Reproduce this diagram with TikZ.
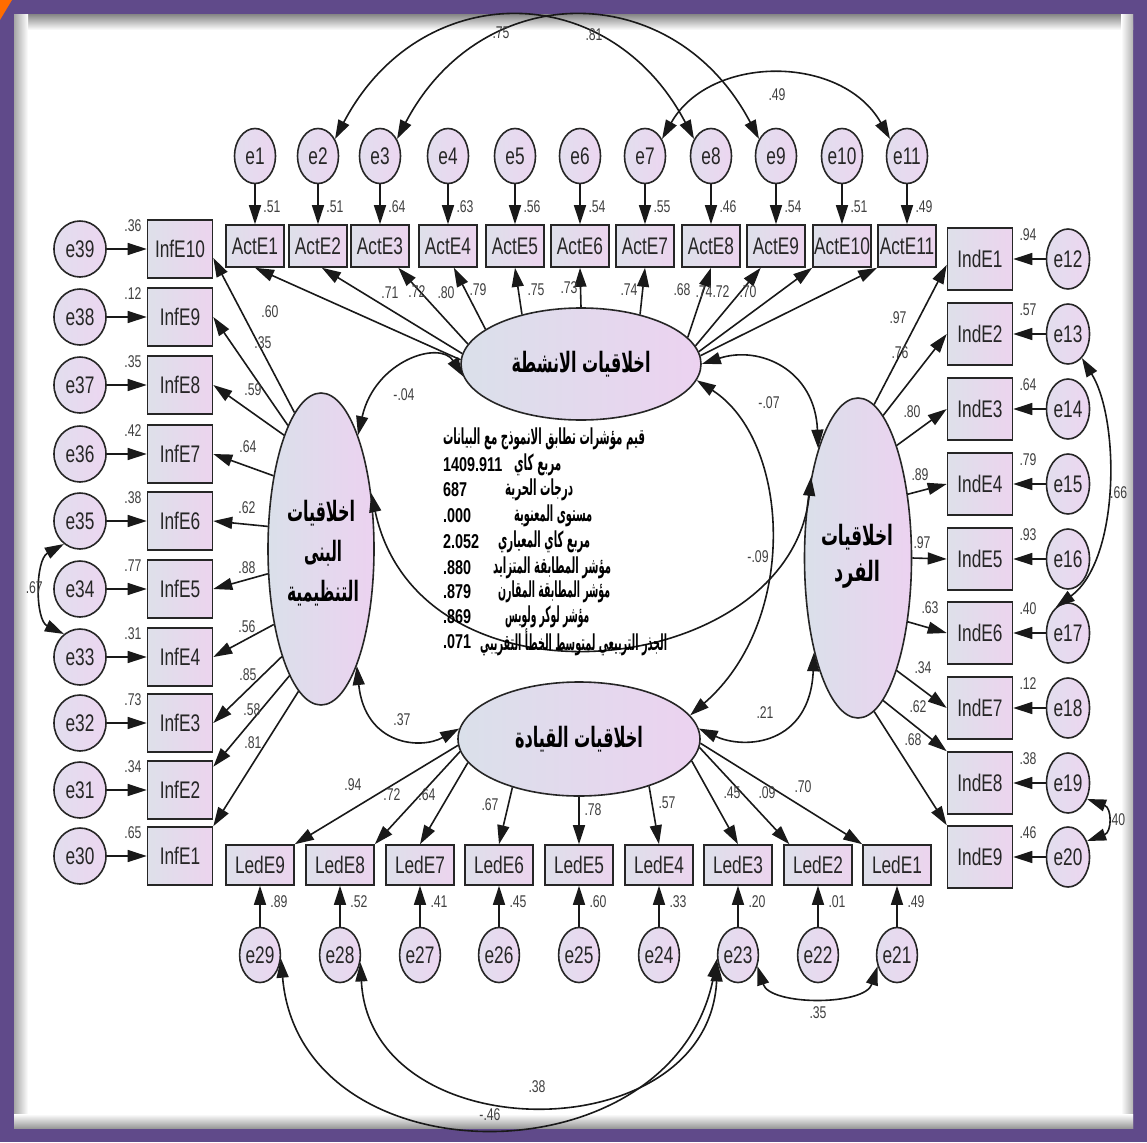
\documentclass[tikz,border=0pt]{standalone}
\usepackage{fontspec}
\usepackage{graphicx}
\usetikzlibrary{shapes.geometric,arrows.meta}
\setmainfont[FakeStretch=0.72]{Liberation Sans}
\newfontfamily\arabicfont[Script=Arabic]{DejaVu Sans}
\TeXXeTstate=1
\definecolor{frameP}{RGB}{96,74,138}
\definecolor{boxL}{RGB}{222,224,234}
\definecolor{boxR}{RGB}{236,212,238}
\definecolor{errL}{RGB}{226,222,238}
\definecolor{errR}{RGB}{236,214,240}
\definecolor{latL}{RGB}{218,224,234}
\definecolor{latR}{RGB}{236,210,240}
\newcommand{\artxt}[3]{{\arabicfont\fontsize{#1}{#1}\selectfont\bfseries\resizebox{#2pt}{\height}{#3}}}
\begin{document}
\begin{tikzpicture}[x=1pt,y=-1pt,>={Triangle[length=19pt,width=12pt]}]
\tikzset{
  obs/.style={rectangle, draw=black!85, line width=1.6pt, left color=boxL, right color=boxR, inner sep=0pt, font=\fontsize{24}{24}\selectfont, text=black!85},
  err/.style={ellipse, draw=black!85, line width=1.6pt, left color=errL, right color=errR, inner sep=0pt, font=\fontsize{24}{24}\selectfont, text=black!85},
  lat/.style={ellipse, draw=black!85, line width=1.6pt, left color=latL, right color=latR, inner sep=0pt},
  lab/.style={inner sep=0pt, font=\fontsize{17}{17}\selectfont, text=black!75},
  num/.style={inner sep=0pt, anchor=west, font=\bfseries\fontsize{20}{20}\selectfont},
  atx/.style={inner sep=0pt},
  arr/.style={->, line width=1.6pt, draw=black!90},
  cov/.style={<->, line width=1.6pt, draw=black!90},
}
% frame
\useasboundingbox (0,0) rectangle (1147,1142);
\fill[frameP] (0,0) rectangle (1147,1142);
\fill[white] (14,15) rectangle (1133,1128);
\shade[top color=black!45, bottom color=white] (14,15) rectangle (1133,30);
\shade[left color=black!35, right color=white] (14,15) rectangle (28,1128);
\shade[left color=white, right color=black!30] (1121,15) rectangle (1133,1128);
\shade[top color=white, bottom color=black!40] (14,1114) rectangle (1133,1128);
\fill[orange!85!red] (0,0) -- (12,0) -- (0,20) -- cycle;

% latent variables
\node[lat, minimum width=240pt, minimum height=112pt] (act) at (581,364) {\artxt{28}{139}{\beginR اخلاقيات الانشطة\endR}};
\node[lat, minimum width=242pt, minimum height=114pt] (led) at (579,739) {\artxt{28}{128}{\beginR اخلاقيات القيادة\endR}};
\node[lat, minimum width=106pt, minimum height=312pt] (inf) at (321,549) {};
\node[lat, minimum width=107pt, minimum height=320pt] (ind) at (858,558) {};
\node[atx] (inft1) at (321,513) {\artxt{28}{68}{\beginR اخلاقيات\endR}};
\node[atx] (inft2) at (323,553) {\artxt{28}{38}{\beginR البنى\endR}};
\node[atx] (inft3) at (323,593) {\artxt{28}{72}{\beginR التنظيمية\endR}};
\node[atx] (indt1) at (857,537) {\artxt{28}{72}{\beginR اخلاقيات\endR}};
\node[atx] (indt2) at (857,574) {\artxt{28}{46}{\beginR الفرد\endR}};

% top row
\foreach \i/\x/\v in {1/255/.51,2/318/.51,3/380/.64,4/448/.63,5/515/.56,6/580/.54,7/645/.55,8/711/.46,9/776/.54,10/842/.51,11/907/.49}{
  \node[err, minimum width=41pt, minimum height=55pt] (e\i) at (\x,156) {e\i};
  \node[obs, minimum width=58pt, minimum height=42pt] (ActE\i) at (\x,246) {ActE\i};
  \node[lab] (ra\i) at (\x+17,207) {\v};
  \draw[arr] (e\i) -- (ActE\i);
}
% left column
\foreach \k/\y/\ee/\v in {10/249/39/.36,9/317/38/.12,8/385/37/.35,7/454/36/.42,6/521/35/.38,5/589/34/.77,4/657/33/.31,3/723/32/.73,2/790/31/.34,1/856/30/.65}{
  \node[err, minimum width=52pt, minimum height=56pt] (e\ee) at (80,\y) {e\ee};
  \node[obs, minimum width=65pt, minimum height=58pt] (InfE\k) at (180,\y) {InfE\k};
  \node[lab] (ri\k) at (133,\y-23) {\v};
  \draw[arr] (e\ee) -- (InfE\k);
}
% right column
\foreach \k/\y/\ee/\v in {1/259/12/.94,2/334/13/.57,3/409/14/.64,4/484/15/.79,5/559/16/.93,6/633/17/.40,7/708/18/.12,8/783/19/.38,9/857/20/.46}{
  \node[obs, minimum width=65pt, minimum height=62pt] (IndE\k) at (980,\y) {IndE\k};
  \node[err, minimum width=43pt, minimum height=60pt] (e\ee) at (1068,\y) {e\ee};
  \node[lab] (rd\k) at (1028,\y-24) {\v};
  \draw[arr] (e\ee) -- (IndE\k);
}
% bottom row
\foreach \k/\x/\ee/\v in {9/260/29/.89,8/340/28/.52,7/420/27/.41,6/499/26/.45,5/579/25/.60,4/659/24/.33,3/738/23/.20,2/818/22/.01,1/897/21/.49}{
  \node[obs, minimum width=68pt, minimum height=40pt] (LedE\k) at (\x,865) {LedE\k};
  \node[err, minimum width=40pt, minimum height=55pt] (e\ee) at (\x,955) {e\ee};
  \node[lab] (rl\k) at (\x+19,902) {\v};
  \draw[arr] (e\ee) -- (LedE\k);
}

% loadings: activities
\draw[arr] (act.178) -- (ActE1.south);
\draw[arr] (act.175) -- (ActE2.-80);
\draw[arr] (act.170) -- (ActE3.-50);
\draw[arr] (act.160) -- (ActE4.-75);
\draw[arr] (act.140) -- (ActE5.south);
\draw[arr] (act.90) -- (ActE6.south);
\draw[arr] (act.40) -- (ActE7.south);
\draw[arr] (act.14) -- (ActE8.south);
\draw[arr] (act.9) -- (ActE9.-125);
\draw[arr] (act.6) -- (ActE10.south west);
\draw[arr] (act.4) -- (ActE11.south west);
\node[lab] (la1) at (390,293) {.71};
\node[lab] (la2) at (417,292) {.72};
\node[lab] (la3) at (446,293) {.80};
\node[lab] (la4) at (478,290) {.79};
\node[lab] (la5) at (536,290) {.75};
\node[lab] (la6) at (569,288) {.73};
\node[lab] (la7) at (629,290) {.74};
\node[lab] (la8) at (682,290) {.68};
\node[lab] (la9) at (704,292) {.74};
\node[lab] (la10) at (721,292) {.72};
\node[lab] (la11) at (748,292) {.70};

% loadings: structures
\draw[arr] (inf.101) -- (InfE10.-15);
\draw[arr] (inf.105) -- (InfE9.east);
\draw[arr] (inf.108) -- (InfE8.east);
\draw[arr] (inf.123) -- (InfE7.east);
\draw[arr] (inf.157) -- (InfE6.east);
\draw[arr] (inf.205) -- (InfE5.east);
\draw[arr] (inf.238) -- (InfE4.east);
\draw[arr] (inf.250) -- (InfE3.east);
\draw[arr] (inf.256) -- (InfE2.35);
\draw[arr] (inf.261) -- (InfE1.north east);
\node[lab] (li10) at (270,312) {.60};
\node[lab] (li9) at (263,343) {.35};
\node[lab] (li8) at (253,390) {.59};
\node[lab] (li7) at (248,447) {.64};
\node[lab] (li6) at (247,508) {.62};
\node[lab] (li5) at (247,568) {.88};
\node[lab] (li4) at (247,627) {.56};
\node[lab] (li3) at (248,675) {.85};
\node[lab] (li2) at (252,710) {.58};
\node[lab] (li1) at (253,743) {.81};

% loadings: individual
\draw[arr] (ind.84) -- (IndE1.190);
\draw[arr] (ind.80) -- (IndE2.west);
\draw[arr] (ind.71) -- (IndE3.west);
\draw[arr] (ind.52) -- (IndE4.west);
\draw[arr] (ind.0) -- (IndE5.west);
\draw[arr] (ind.-52) -- (IndE6.west);
\draw[arr] (ind.-71) -- (IndE7.west);
\draw[arr] (ind.-80) -- (IndE8.north west);
\draw[arr] (ind.-84) -- (IndE9.north west);
\node[lab] (ld1) at (898,318) {.97};
\node[lab] (ld2) at (900,353) {.76};
\node[lab] (ld3) at (912,412) {.80};
\node[lab] (ld4) at (920,475) {.89};
\node[lab] (ld5) at (922,543) {.97};
\node[lab] (ld6) at (930,608) {.63};
\node[lab] (ld7) at (923,668) {.34};
\node[lab] (ld8) at (918,707) {.62};
\node[lab] (ld9) at (913,740) {.68};

% loadings: leadership
\draw[arr] (led.183) -- (LedE9.north east);
\draw[arr] (led.186) -- (LedE8.north east);
\draw[arr] (led.192) -- (LedE7.north);
\draw[arr] (led.216) -- (LedE6.north);
\draw[arr] (led.270) -- (LedE5.north);
\draw[arr] (led.-34) -- (LedE4.north);
\draw[arr] (led.-11) -- (LedE3.north);
\draw[arr] (led.-4) -- (LedE2.144);
\draw[arr] (led.-2) -- (LedE1.north west);
\node[lab] (ll9) at (353,785) {.94};
\node[lab] (ll8) at (392,795) {.72};
\node[lab] (ll7) at (427,795) {.64};
\node[lab] (ll6) at (490,805) {.67};
\node[lab] (ll5) at (593,810) {.78};
\node[lab] (ll4) at (667,803) {.57};
\node[lab] (ll3) at (732,793) {.45};
\node[lab] (ll2) at (767,793) {.09};
\node[lab] (ll1) at (803,787) {.70};

% latent covariances
\draw[cov] (inf.72) .. controls (375,360) and (440,340) .. (act.186);
\draw[cov] (act.0) .. controls (760,345) and (815,370) .. (ind.110);
\draw[cov] (inf.-73) .. controls (365,745) and (420,750) .. (led.175);
\draw[cov] (ind.-115) .. controls (810,745) and (745,750) .. (led.5);
\draw[cov] (act.-8) .. controls (790,440) and (800,620) .. (led.12);
\draw[cov] (inf.48) .. controls (420,720) and (790,680) .. (ind.120);
\node[lab] (c1) at (404,395) {-.04};
\node[lab] (c2) at (769,403) {-.07};
\node[lab] (c3) at (402,720) {.37};
\node[lab] (c4) at (765,713) {.21};
\node[lab] (c5) at (758,557) {-.09};

% error covariances
\draw[cov] (e35.235) .. controls (35,560) and (35,620) .. (e33.125);
\draw[cov] (e13.-60) .. controls (1120,420) and (1120,560) .. (e17.115);
\draw[cov] (e19.-40) .. controls (1112,808) and (1112,832) .. (e20.40);
\draw[cov] (e29.-10) .. controls (300,1183) and (674,1183) .. (e23.190);
\draw[cov] (e28.-20) .. controls (370,1152) and (708,1152) .. (e23.200);
\draw[cov] (e23.-30) .. controls (770,1006) and (865,1006) .. (e21.210);
\draw[cov] (e2.45) .. controls (420,-23) and (609,-23) .. (e8.135);
\draw[cov] (e3.45) .. controls (482,-23) and (674,-23) .. (e9.135);
\draw[cov] (e7.45) .. controls (710,54) and (842,54) .. (e11.135);
\node[lab, anchor=east] (c6) at (43,588) {.67};
\node[lab, anchor=west] (c7) at (1110,493) {.66};
\node[lab, anchor=west] (c8) at (1108,820) {.40};
\node[lab] (c9) at (490,1115) {-.46};
\node[lab] (c10) at (537,1087) {.38};
\node[lab] (c11) at (818,1013) {.35};
\node[lab] (c12) at (501,33) {.75};
\node[lab] (c13) at (594,35) {.81};
\node[lab] (c14) at (777,95) {.49};

% fit indices
\node[atx] (s1) at (544,439) {\artxt{22}{202}{\beginR قيم مؤشرات تطابق الانموذج مع البيانات\endR}};
\node[num] (n2) at (443,465) {1409.911};
\node[atx, anchor=west] (s2) at (514,465) {\artxt{22}{47}{\beginR مربع كاي\endR}};
\node[num] (n3) at (443,490) {687};
\node[atx, anchor=west] (s3) at (505,490) {\artxt{22}{68}{\beginR درجات الحرية\endR}};
\node[num] (n4) at (443,516) {.000};
\node[atx, anchor=west] (s4) at (514,516) {\artxt{22}{78}{\beginR مستوى المعنوية\endR}};
\node[num] (n5) at (443,542) {2.052};
\node[atx, anchor=west] (s5) at (498,542) {\artxt{22}{92}{\beginR مربع كاي المعياري\endR}};
\node[num] (n6) at (443,568) {.880};
\node[atx, anchor=west] (s6) at (493,568) {\artxt{22}{118}{\beginR مؤشر المطابقة المتزايد\endR}};
\node[num] (n7) at (443,592) {.879};
\node[atx, anchor=west] (s7) at (498,592) {\artxt{22}{112}{\beginR مؤشر المطابقة المقارن\endR}};
\node[num] (n8) at (443,617) {.869};
\node[atx, anchor=west] (s8) at (505,617) {\artxt{22}{84}{\beginR مؤشر لوكر ولويس\endR}};
\node[num] (n9) at (443,642) {.071};
\node[atx, anchor=west] (s9) at (480,642) {\artxt{22}{187}{\beginR الجذر التربيعي لمتوسط الخطأ التقريبي\endR}};
\end{tikzpicture}
\end{document}
